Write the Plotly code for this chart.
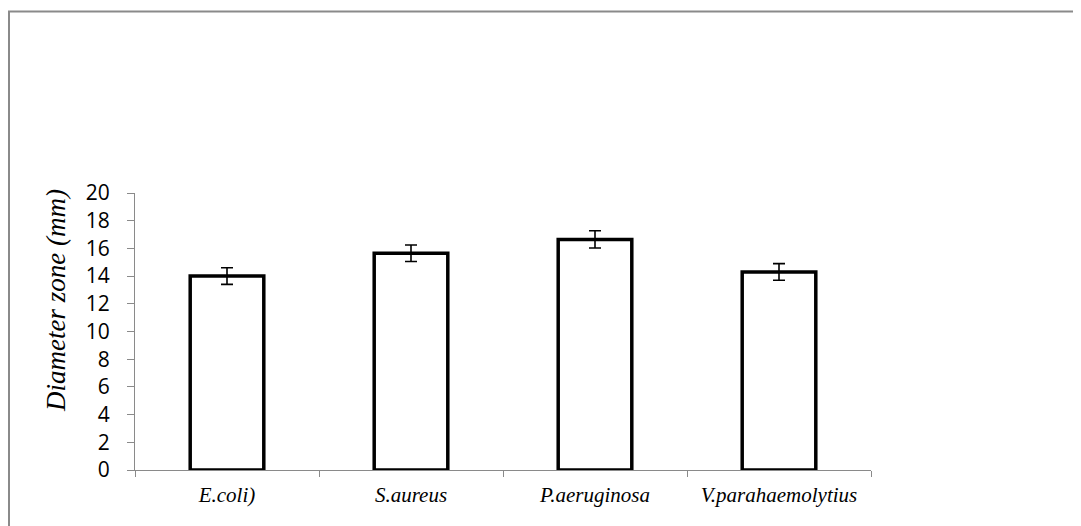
import plotly.graph_objects as go

categories = ["E.coli)", "S.aureus", "P.aeruginosa", "V.parahaemolytius"]
values = [14.0, 15.65, 16.65, 14.3]
errors = [0.6, 0.6, 0.62, 0.6]
y_ticks = [0, 2, 4, 6, 8, 10, 12, 14, 16, 18, 20]

W, H = 1081, 526
OFF = 8  # page body margin offset
# target plot area in screen px: x 135..871, y 193..470
L, T = 135 - OFF, 193 - OFF
R = W - (871 - OFF)
B = H - (470 - OFF)
pw, ph = W - L - R, H - T - B

SERIF = "Liberation Serif, Times New Roman, DejaVu Serif, serif"

def px_x(x):
    return (x - OFF - L) / pw

def px_y(y):
    return (H - B - (y - OFF)) / ph

fig = go.Figure()
fig.add_trace(go.Bar(
    x=categories, y=values,
    marker=dict(color="white", line=dict(color="black", width=3.5)),
    error_y=dict(type="data", array=errors, visible=True, color="black", thickness=1.6, width=6),
    width=0.4,
))

fig.update_layout(
    width=W, height=H,
    margin=dict(l=L, r=R, t=T, b=B),
    paper_bgcolor="white", plot_bgcolor="white",
    showlegend=False,
    xaxis=dict(
        type="category",
        showline=True, linecolor="#8a8a8a", linewidth=1,
        ticks="outside", tickson="boundaries", ticklen=6, tickcolor="#8a8a8a",
        tickfont=dict(family=SERIF, size=21, color="black", style="italic"),
        ticklabelstandoff=6,
        showgrid=False, zeroline=False,
    ),
    yaxis=dict(
        range=[0, 20], tickvals=y_ticks,
        showline=True, linecolor="#8a8a8a", linewidth=1,
        ticks="outside", ticklen=7, tickcolor="#8a8a8a",
        tickfont=dict(family="Open Sans", size=21, color="black"),
        ticklabelstandoff=13,
        showgrid=False, zeroline=False,
    ),
    annotations=[dict(
        text="Diameter zone (mm)", textangle=-90,
        x=px_x(56), y=px_y(301), xref="paper", yref="paper",
        showarrow=False, xanchor="center", yanchor="middle",
        font=dict(family=SERIF, size=27, color="black", style="italic"),
    )],
    shapes=[
        dict(type="line", xref="paper", yref="paper",
             x0=px_x(8), x1=px_x(1095), y0=px_y(11.5), y1=px_y(11.5),
             line=dict(color="#8a8a8a", width=2)),
        dict(type="line", xref="paper", yref="paper",
             x0=px_x(9), x1=px_x(9), y0=px_y(11.5), y1=px_y(540),
             line=dict(color="#8a8a8a", width=2)),
    ],
)

fig.write_html("out.html")
